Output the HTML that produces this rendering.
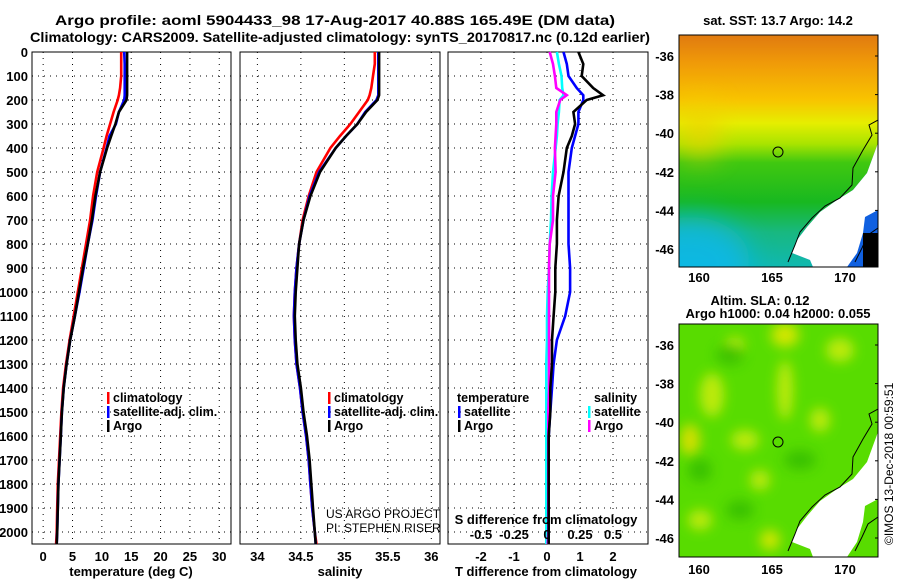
<!DOCTYPE html>
<html><head><meta charset="utf-8">
<style>
html,body{margin:0;padding:0;background:#fff;}
svg{display:block;font-family:"Liberation Sans",sans-serif;}
.t{font-weight:bold;font-size:14px;}
.tk{font-weight:bold;font-size:13px;}
.lg{font-weight:bold;font-size:12.5px;}
</style></head><body>
<svg id="chart" width="900" height="580" viewBox="0 0 900 580" xmlns="http://www.w3.org/2000/svg">
<text class="t" x="55" y="25" textLength="560" lengthAdjust="spacingAndGlyphs">Argo profile: aoml 5904433_98 17-Aug-2017 40.88S 165.49E (DM data)</text>
<text class="t" x="30" y="42" textLength="620" lengthAdjust="spacingAndGlyphs">Climatology: CARS2009. Satellite-adjusted climatology: synTS_20170817.nc (0.12d earlier)</text>
<g id="plots"></g>

<defs>
<linearGradient id="sstv" x1="0" y1="0" x2="0" y2="1">
<stop offset="0" stop-color="#e07a10"/><stop offset="0.12" stop-color="#f09a08"/>
<stop offset="0.28" stop-color="#f8c400"/><stop offset="0.38" stop-color="#e6ee00"/>
<stop offset="0.47" stop-color="#a8e400"/><stop offset="0.55" stop-color="#40c810"/>
<stop offset="0.72" stop-color="#18b820"/><stop offset="0.85" stop-color="#18b880"/>
<stop offset="1" stop-color="#10b8b0"/></linearGradient>
<linearGradient id="ssth" x1="0" y1="0" x2="1" y2="1">
<stop offset="0" stop-color="#10b8f0" stop-opacity="0"/><stop offset="0.4" stop-color="#10b8f0" stop-opacity="0.5"/><stop offset="1" stop-color="#10b8f0" stop-opacity="0.9"/></linearGradient>
<filter id="bl" x="-50%" y="-50%" width="200%" height="200%"><feGaussianBlur stdDeviation="6"/></filter>
<filter id="bl2" x="-50%" y="-50%" width="200%" height="200%"><feGaussianBlur stdDeviation="14"/></filter>
<clipPath id="c1"><rect x="679" y="35" width="199" height="232"/></clipPath>
<clipPath id="c2"><rect x="679" y="324" width="199" height="233"/></clipPath>
</defs>
<text class="tk" x="778" y="25" text-anchor="middle">sat. SST: 13.7 Argo: 14.2</text>
<g clip-path="url(#c1)">
<rect x="679" y="35" width="199" height="232" fill="url(#sstv)"/>
<ellipse cx="690" cy="262" rx="60" ry="45" fill="#10b8f0" opacity="0.8" filter="url(#bl2)"/>
<ellipse cx="700" cy="130" rx="20" ry="30" fill="#f0d000" opacity="0.7" filter="url(#bl2)"/>
<path d="M878,143 L867,173 L853,190 L837,200 L820,212 L807,227 L797,240 L792,253 L810,260 L813,267 L878,267 Z" fill="#1060e0"/>
<rect x="863" y="233" width="15" height="34" fill="#000"/>
<path d="M878,143 L867,173 L853,190 L837,200 L820,212 L807,227 L797,240 L792,253 L810,260 L813,267 L847,267 L857,253 L863,233 L865,217 L878,210 Z" fill="#fff"/>
<path d="M878,120 L869,125 L872,135 L863,150 L853,168 L852,185 L840,198 L825,206 L812,218 L800,232 L795,245 L788,262" fill="none" stroke="#000" stroke-width="1"/>
<path d="M878,228 L868,235 L862,248 L855,262" fill="none" stroke="#000" stroke-width="1"/>
</g>
<rect x="679" y="35" width="199" height="232" fill="none" stroke="#000"/>
<circle cx="778" cy="152" r="5" fill="none" stroke="#000"/>

<text class="tk" x="760" y="305" text-anchor="middle">Altim. SLA: 0.12</text>
<text class="tk" x="778" y="318" text-anchor="middle">Argo h1000: 0.04 h2000: 0.055</text>
<g clip-path="url(#c2)">
<rect x="679" y="324" width="199" height="233" fill="#58dc00"/>
<g filter="url(#bl)" fill="#c8ec10" opacity="0.9">
<ellipse cx="785" cy="335" rx="14" ry="12" fill="#e0e800"/>
<ellipse cx="712" cy="395" rx="12" ry="22"/>
<ellipse cx="690" cy="440" rx="10" ry="16" fill="#e0e000"/>
<ellipse cx="745" cy="440" rx="14" ry="10"/>
<ellipse cx="785" cy="390" rx="8" ry="30"/>
<ellipse cx="840" cy="350" rx="14" ry="12"/>
<ellipse cx="820" cy="420" rx="10" ry="12"/>
<ellipse cx="700" cy="520" rx="12" ry="10"/>
<ellipse cx="770" cy="540" rx="10" ry="10" fill="#e0e800"/>
<ellipse cx="760" cy="480" rx="10" ry="10"/>
<ellipse cx="735" cy="345" rx="10" ry="8"/>
</g>
<g filter="url(#bl)" fill="#28b000" opacity="0.6">
<ellipse cx="730" cy="355" rx="14" ry="10"/><ellipse cx="700" cy="470" rx="12" ry="12"/>
<ellipse cx="800" cy="460" rx="16" ry="10"/><ellipse cx="740" cy="510" rx="14" ry="10"/>
</g>
<path d="M878,432 L867,462 L853,479 L837,489 L820,501 L807,516 L797,529 L792,542 L810,549 L813,557 L847,557 L857,542 L863,522 L865,506 L878,499 Z" fill="#fff"/>
<path d="M878,409 L869,414 L872,424 L863,439 L853,457 L852,474 L840,487 L825,495 L812,507 L800,521 L795,534 L788,551" fill="none" stroke="#000" stroke-width="1"/>
<path d="M878,517 L868,524 L862,537 L855,551" fill="none" stroke="#000" stroke-width="1"/>
</g>
<rect x="679" y="324" width="199" height="233" fill="none" stroke="#000"/>
<circle cx="778" cy="442" r="5" fill="none" stroke="#000"/>
<text x="0" y="0" font-size="12" transform="translate(893,545) rotate(-90)">©IMOS 13-Dec-2018 00:59:51</text>
<g id="maps"></g>
</svg>
<script>
const depths=[0,50,100,150,180,200,250,300,350,400,500,600,700,800,900,1000,1100,1200,1300,1400,1500,1600,1700,1800,1900,2000,2050];
const tClim=[13.3,13.3,13.3,13.1,12.9,12.7,12.0,11.4,10.8,10.3,9.2,8.5,8.0,7.3,6.6,5.9,5.2,4.5,3.9,3.4,3.1,2.9,2.7,2.5,2.4,2.3,2.2];
const tSat=[13.8,13.9,13.9,13.9,13.9,13.8,12.9,12.4,11.3,10.8,9.7,9.0,8.4,7.6,6.9,6.2,5.4,4.6,4.0,3.5,3.2,3.0,2.8,2.6,2.5,2.4,2.3];
const tArgo=[14.3,14.3,14.3,14.3,14.3,14.2,12.9,12.3,11.6,10.9,9.7,8.9,8.3,7.6,6.8,6.1,5.4,4.6,4.0,3.5,3.2,3.0,2.8,2.6,2.5,2.4,2.3];
const sClim=[35.35,35.35,35.33,35.31,35.29,35.27,35.17,35.07,34.95,34.84,34.68,34.59,34.52,34.48,34.45,34.43,34.42,34.43,34.45,34.49,34.52,34.56,34.59,34.61,34.63,34.66,34.68];
const sSat=[35.39,35.39,35.39,35.39,35.39,35.37,35.24,35.15,35.02,34.9,34.71,34.6,34.53,34.48,34.45,34.43,34.42,34.43,34.45,34.49,34.52,34.56,34.59,34.61,34.63,34.66,34.67];
const sArgo=[35.4,35.4,35.4,35.4,35.4,35.38,35.25,35.15,35.02,34.9,34.72,34.61,34.53,34.48,34.46,34.44,34.43,34.44,34.46,34.5,34.53,34.57,34.6,34.62,34.64,34.66,34.67];
const dTsat=[0.5,0.6,0.65,0.9,1.1,1.1,0.95,0.95,0.85,0.75,0.65,0.65,0.65,0.65,0.7,0.7,0.55,0.3,0.2,0.15,0.1,0.05,0.05,0.05,0.05,0.05,0.05];
const dTargo=[0.95,1.1,1.05,1.4,1.7,1.2,0.8,0.85,0.75,0.6,0.5,0.35,0.3,0.3,0.25,0.25,0.2,0.15,0.15,0.1,0.1,0.05,0.05,0.05,0.05,0.05,0.05];
const dSsat=[0.075,0.09,0.11,0.115,0.125,0.095,0.09,0.08,0.075,0.065,0.045,0.035,0.03,0.02,0.015,0.005,0,0,-0.005,-0.005,-0.005,-0.005,-0.005,-0.005,-0.005,-0.005,-0.005];
const dSargo=[0.02,0.045,0.06,0.07,0.15,0.1,0.07,0.07,0.065,0.06,0.065,0.045,0.045,0.02,0.015,0.015,0.015,0.015,0.015,0.015,0.01,0.01,0.01,0.01,0.01,0.01,0.005];
const depthTicks=[0,100,200,300,400,500,600,700,800,900,1000,1100,1200,1300,1400,1500,1600,1700,1800,1900,2000];
const tTicks=[0,5,10,15,20,25,30];
const sTicks=[34,34.5,35,35.5,36];
const dTTicks=[-2,-1,0,1,2];
const dSTicks=[-0.5,-0.25,0,0.25,0.5];
const latTicks=[-36,-38,-40,-42,-44,-46];
const lonTicks=[160,165,170];

const NS="http://www.w3.org/2000/svg";
const root=document.getElementById('plots');
function mk(tag,attrs,parent){const e=document.createElementNS(NS,tag);for(const k in attrs)e.setAttribute(k,attrs[k]);(parent||root).appendChild(e);return e;}
const Y0=52,Y1=544;
const yD=d=>Y0+(d/2050)*(Y1-Y0);
function panel(name,x0,x1,lo,hi,ticks,labels){
  const g=mk('g',{});
  
  
  const sx=v=>x0+(v-lo)/(hi-lo)*(x1-x0);
  depthTicks.forEach(d=>{const l=mk('line',{x1:x0,x2:x1,y1:yD(d),y2:yD(d),stroke:'#000','stroke-dasharray':'1,5'},g);});
  ticks.forEach((v,i)=>{const l=mk('line',{x1:sx(v),x2:sx(v),y1:Y0,y2:Y1,stroke:'#000','stroke-dasharray':'1,5'},g);
    const t=mk('text',{x:sx(v),y:Y1+17,'text-anchor':'middle',class:'tk'},g);t.textContent=labels[i];});
  const r=mk('rect',{x:x0,y:Y0,width:x1-x0,height:Y1-Y0,fill:'none',stroke:'#000'},g);
  
  return {g,sx};
}
function line(p,vals,col,name){
  const pts=vals.map((v,i)=>p.sx(v).toFixed(1)+','+yD(depths[i]).toFixed(1)).join(' ');
  const l=mk('polyline',{points:pts,fill:'none',stroke:col,'stroke-width':2.6},p.g);
  
  
}
function txt(g,x,y,s,cls,name,anchor,extra){const t=mk('text',Object.assign({x,y,class:cls,'text-anchor':anchor||'start'},extra||{}),g);t.textContent=s;return t;}
function legend(g,x,y,items){items.forEach((it,i)=>{
  const b=mk('rect',{x:x,y:y+i*14-10,width:2.5,height:12,fill:it[1]},g);
  txt(g,x+6,y+i*14,it[0],'lg','legend-entry');});}

const p1=panel('temperature-panel',32,231,-1.9,32,tTicks,tTicks.map(String));
depthTicks.forEach(d=>txt(p1.g,28,yD(d)+5,String(d),'tk','y-tick-label','end'));
line(p1,tClim,'#f00','temp-climatology-line');
line(p1,tSat,'#00f','temp-satellite-line');
line(p1,tArgo,'#000','temp-argo-line');
txt(p1.g,131,576,'temperature (deg C)','tk','x-axis-title','middle');
legend(p1.g,107,402,[['climatology','#f00'],['satellite-adj. clim.','#00f'],['Argo','#000']]);

const p2=panel('salinity-panel',240,440,33.8,36.1,sTicks,sTicks.map(String));
line(p2,sClim,'#f00','sal-climatology-line');
line(p2,sSat,'#00f','sal-satellite-line');
line(p2,sArgo,'#000','sal-argo-line');
txt(p2.g,340,576,'salinity','tk','x-axis-title','middle');
legend(p2.g,328,402,[['climatology','#f00'],['satellite-adj. clim.','#00f'],['Argo','#000']]);
txt(p2.g,326,518,'US ARGO PROJECT','','credit-project','start',{'font-size':12});
txt(p2.g,326,532,'PI: STEPHEN RISER','','credit-pi','start',{'font-size':12});

const p3=panel('difference-panel',448,648,-3,3.06,dTTicks,dTTicks.map(String));
line(p3,dSsat.map(v=>v*4),'#0ff','sdiff-satellite-line');
line(p3,dSargo.map(v=>v*4),'#f0f','sdiff-argo-line');
line(p3,dTsat,'#00f','tdiff-satellite-line');
line(p3,dTargo,'#000','tdiff-argo-line');
txt(p3.g,546,576,'T difference from climatology','tk','x-axis-title','middle');
txt(p3.g,546,524,'S difference from climatology','tk','s-axis-title','middle');
dSTicks.forEach(v=>txt(p3.g,p3.sx(v*4),539,String(v),'tk','s-tick-label','middle'));
txt(p3.g,457,402,'temperature','lg','legend-title');
legend(p3.g,458,416,[['satellite','#00f'],['Argo','#000']]);
txt(p3.g,594,402,'salinity','lg','legend-title');
legend(p3.g,588,416,[['satellite','#0ff'],['Argo','#f0f']]);

const mg=document.getElementById('maps');
function mt(x,y,s,a){const t=document.createElementNS(NS,'text');t.setAttribute('x',x);t.setAttribute('y',y);t.setAttribute('class','tk');t.setAttribute('text-anchor',a);t.textContent=s;
  
  
  mg.appendChild(t);}
[[35,0],[324,289]].forEach(([top,off])=>{
  latTicks.forEach(l=>{const y=56+(-36-l)*19.3+off;mt(674,y+5,String(l),'end');
    const tk=document.createElementNS(NS,'line');tk.setAttribute('x1',875);tk.setAttribute('x2',878);tk.setAttribute('y1',y);tk.setAttribute('y2',y);tk.setAttribute('stroke','#000');mg.appendChild(tk);});
  lonTicks.forEach(l=>mt(699+(l-160)*14.6,top+(off?250:247),String(l),'middle'));
});
</script>
</body></html>
